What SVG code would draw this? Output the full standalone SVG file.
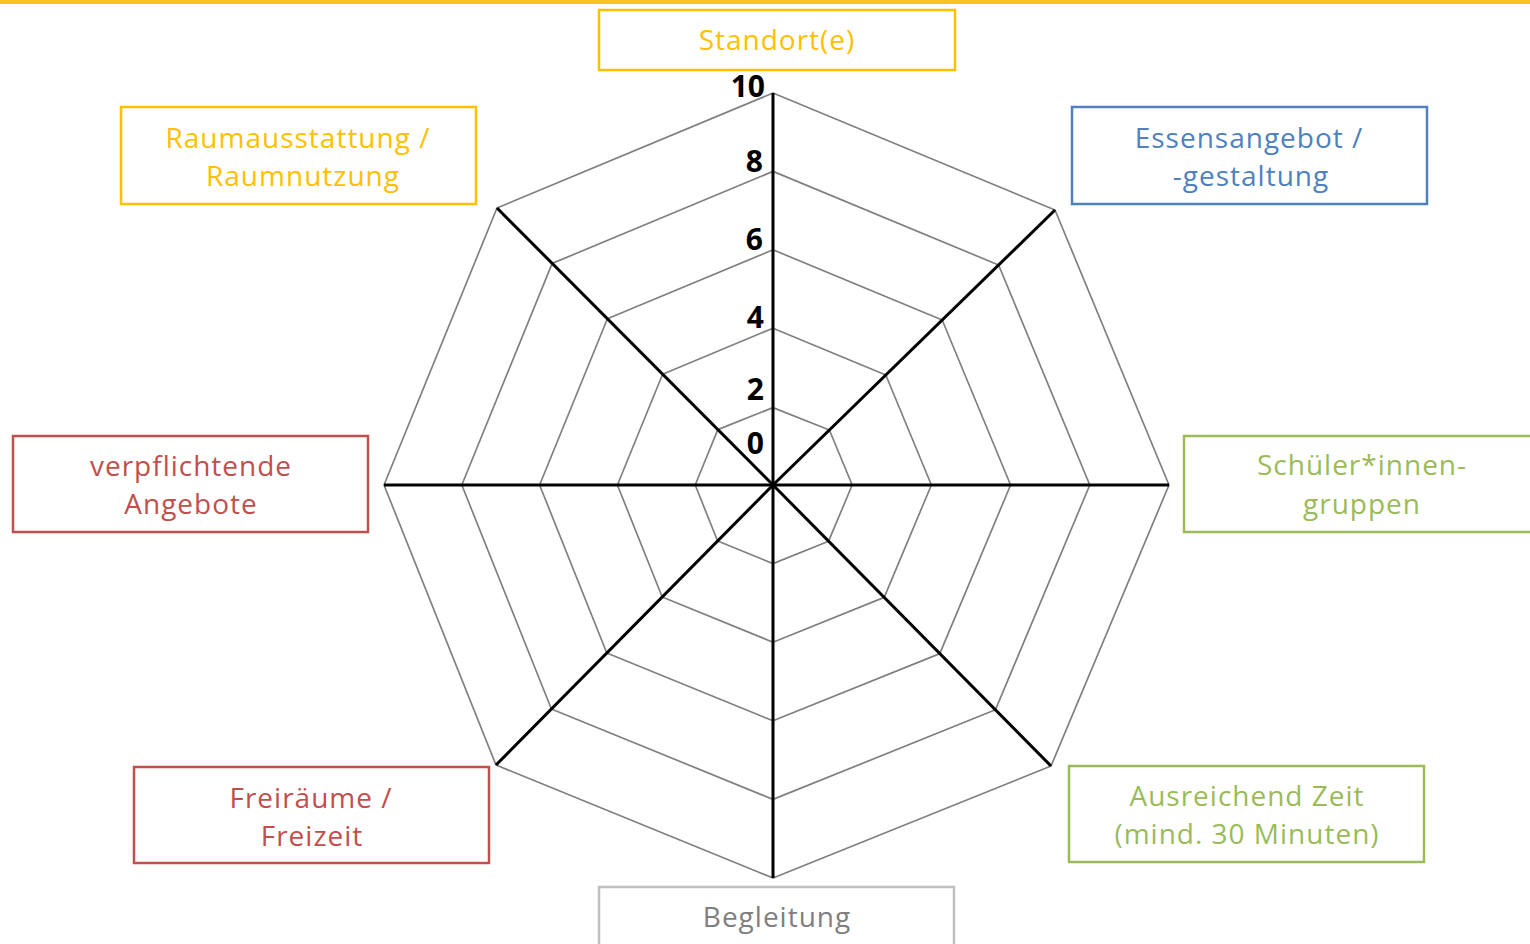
<svg xmlns="http://www.w3.org/2000/svg" width="1530" height="944" viewBox="0 0 1530 944">
<style>
.box{fill:#fff;stroke-width:2.5}
.lbl{font-family:"Open Sans","Noto Sans",sans-serif;font-size:28px;text-anchor:middle;letter-spacing:1px}
.y{stroke:#FFC000}.yt{fill:#FFC000}
.b{stroke:#4F81BD}.bt{fill:#4F81BD}
.r{stroke:#C0504D}.rt{fill:#C0504D}
.g{stroke:#9BBB59}.gt{fill:#9BBB59}
.k{stroke:#BFBFBF}.kt{fill:#7F7F7F}
.grid{fill:none;stroke:#808080;stroke-width:1.7;stroke-linejoin:round}
.axis{stroke:#000;stroke-width:3}
.num{font-family:"Open Sans","Noto Sans",sans-serif;font-size:30px;font-weight:bold;text-anchor:end;fill:#000}
</style>
<rect x="0" y="0" width="1530" height="944" fill="#fff"/>
<rect x="0" y="0" width="1530" height="4" fill="#F5C623"/>
<g id="grid">
<polygon class="grid" points="773,407.6 829.4,430 852.2,485 828.6,541.2 773,563.6 717.6,541 695.2,485 717.8,429.6"/>
<polygon class="grid" points="773,328.2 885.8,375 931.4,485 884.2,597.4 773,642.2 662.2,597 617.4,485 662.6,374.2"/>
<polygon class="grid" points="773,249.8 942.2,320 1010.6,485 939.8,653.6 773,720.8 606.8,653 539.6,485 607.4,318.8"/>
<polygon class="grid" points="773,171.4 998.6,265 1089.8,485 995.4,709.8 773,799.4 551.4,709 461.8,485 552.2,263.4"/>
<polygon class="grid" points="773,93 1055,210 1169,485 1051,766 773,878 496,765 384,485 497,208"/>
</g>
<g id="connectors">
<line class="axis" x1="773" y1="485" x2="773" y2="93"/>
<line class="axis" x1="773" y1="485" x2="1055" y2="210"/>
<line class="axis" x1="773" y1="485" x2="1169" y2="485"/>
<line class="axis" x1="773" y1="485" x2="1051" y2="766"/>
<line class="axis" x1="773" y1="485" x2="773" y2="878"/>
<line class="axis" x1="773" y1="485" x2="496" y2="765"/>
<line class="axis" x1="773" y1="485" x2="384" y2="485"/>
<line class="axis" x1="773" y1="485" x2="497" y2="208"/>
</g>
<g id="scale">
<text class="num" x="765" y="97">10</text>
<text class="num" x="763" y="172">8</text>
<text class="num" x="763" y="250">6</text>
<text class="num" x="764" y="328">4</text>
<text class="num" x="764" y="400">2</text>
<text class="num" x="764" y="454">0</text>
</g>
<g id="standort">
<rect class="box y" x="599" y="10" width="356" height="60"/>
<text class="lbl yt" x="777" y="50">Standort(e)</text>
</g>
<g id="raum">
<rect class="box y" x="121" y="107" width="355" height="97"/>
<text class="lbl yt" x="298" y="148">Raumausstattung /</text>
<text class="lbl yt" x="303" y="186">Raumnutzung</text>
</g>
<g id="essen">
<rect class="box b" x="1072" y="107" width="355" height="97"/>
<text class="lbl bt" x="1249" y="148">Essensangebot /</text>
<text class="lbl bt" x="1251" y="186">-gestaltung</text>
</g>
<g id="verpflichtend">
<rect class="box r" x="13" y="436" width="355" height="96"/>
<text class="lbl rt" x="191" y="476">verpflichtende</text>
<text class="lbl rt" x="191" y="514">Angebote</text>
</g>
<g id="schueler">
<rect class="box g" x="1184" y="436" width="356" height="96"/>
<text class="lbl gt" x="1362" y="475">Schüler*innen-</text>
<text class="lbl gt" x="1362" y="514">gruppen</text>
</g>
<g id="freiraeume">
<rect class="box r" x="134" y="767" width="355" height="96"/>
<text class="lbl rt" x="311" y="808">Freiräume /</text>
<text class="lbl rt" x="312" y="846">Freizeit</text>
</g>
<g id="zeit">
<rect class="box g" x="1069" y="766" width="355" height="96"/>
<text class="lbl gt" x="1247" y="806">Ausreichend Zeit</text>
<text class="lbl gt" x="1247" y="844">(mind. 30 Minuten)</text>
</g>
<g id="begleitung">
<rect class="box k" x="599" y="887" width="355" height="70"/>
<text class="lbl kt" x="777" y="927">Begleitung</text>
</g>
</svg>
